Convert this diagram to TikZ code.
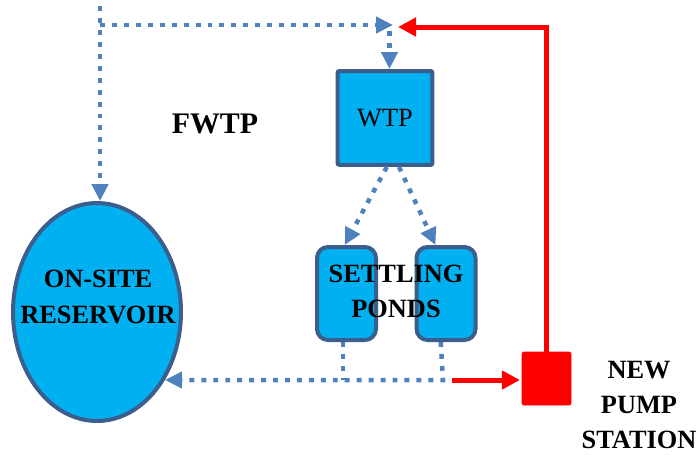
\documentclass[tikz,border=0pt]{standalone}
\usepackage{fontspec}
\setmainfont{Liberation Serif}
\usetikzlibrary{shapes.geometric, arrows.meta, positioning}

\definecolor{tankblue}{HTML}{00B0F0}
\definecolor{tankedge}{HTML}{3B5E8C}
\definecolor{pipeblue}{HTML}{4F81BD}

\tikzset{
  tank/.style={draw=tankedge, line width=0.08cm, fill=tankblue},
  dotline/.style={draw=pipeblue, line width=0.09cm, dash pattern=on 2.8pt off 4pt},
  redline/.style={draw=red, line width=0.1cm},
  bluetip/.style={-{Triangle[length=0.34cm, width=0.32cm]}},
  redtip/.style={-{Triangle[length=0.36cm, width=0.36cm]}},
  caption/.style={font=\fontsize{15}{20}\selectfont\bfseries, align=center, inner sep=0pt}
}

\begin{document}
\begin{tikzpicture}[x=0.02cm, y=-0.02cm]
    \useasboundingbox (0,0) rectangle (699,454);

    \node [tank, ellipse, minimum width=3.36cm, minimum height=4.36cm] (res) at (97,312) {};
    \node [caption] (restext) at (98,297) {ON-SITE\\RESERVOIR};
    \node [tank, rectangle, rounded corners=0.04cm, minimum width=1.9cm, minimum height=1.88cm,
           font=\fontsize{15}{18}\selectfont] (wtp) at (385,118) {WTP};
    \node [tank, rectangle, rounded corners=0.22cm, minimum width=1.18cm, minimum height=1.86cm] (lpond) at (346.5,293.5) {};
    \node [tank, rectangle, rounded corners=0.22cm, minimum width=1.18cm, minimum height=1.86cm] (rpond) at (446,293.5) {};
    \node [caption] (pondtext) at (396,291) {SETTLING\\PONDS};
    \node [draw=red, fill=red, rectangle, rounded corners=0.04cm, minimum width=0.98cm, minimum height=1.06cm] (pump) at (546.5,378.5) {};
    \node [caption] (pumptext) at (639,405) {NEW\\PUMP\\STATION};
    \node [caption, font=\fontsize{17}{20}\selectfont\bfseries] (fwtp) at (215,124) {FWTP};

    \coordinate (src) at (100,6);
    \coordinate (jct) at (393,25);
    \coordinate (rj) at (443,380);

    \draw[dotline, bluetip] (src) -- (src |- res.north);
    \draw[dotline, bluetip] (src |- jct) -- (jct);
    \draw[dotline, bluetip, shorten <=0.12cm] ([xshift=-2]jct) -- ([xshift=-2]jct |- wtp.north);
    \draw[redline, redtip] (pump.north) -- (pump.north |- 0,27) -- (398,27);
    \draw[dotline, bluetip] ([xshift=1]wtp.south) -- ([xshift=-1]lpond.north);
    \draw[dotline, bluetip] ([xshift=8]wtp.south) -- ([xshift=-6]rpond.north);
    \draw[dotline] ([xshift=-2]lpond.south) -- ([xshift=-2]lpond.south |- rj);
    \draw[dotline, bluetip] ([xshift=-3]rpond.south) -- (rj) -- (rj -| res.-45);
    \draw[redline, redtip] ([xshift=5]rj) -- ([xshift=-1]pump.west |- rj);
\end{tikzpicture}
\end{document}
